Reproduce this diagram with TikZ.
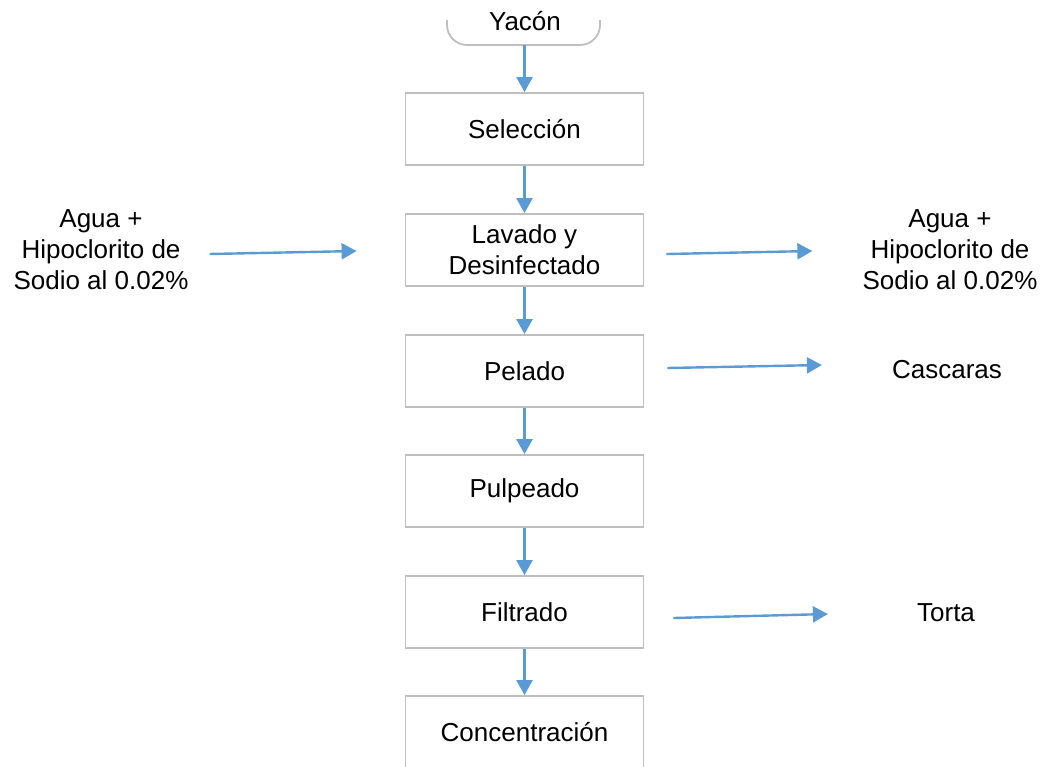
\documentclass[tikz,border=0pt]{standalone}
\usepackage{fontspec}
\setmainfont{Liberation Sans}
\usetikzlibrary{arrows.meta,calc}
\definecolor{flowblue}{HTML}{5B9BD5}
\definecolor{boxgray}{HTML}{BFBFBF}
\tikzset{
	procbox/.style={draw=boxgray, line width=1.8pt, minimum width=238pt, minimum height=72pt, align=center, inner sep=0pt},
	flow/.style={draw=flowblue, line width=2.4pt, -{Triangle[length=15pt,width=16pt]}},
	sidetext/.style={align=center, inner sep=0pt}
}

\begin{document}
\begin{tikzpicture}[x=1pt, y=-1pt, font=\fontsize{26}{31}\selectfont]
			%%%%% START %%%%%
			\useasboundingbox (0,0) rectangle (1056,766);
			
			\node[inner sep=0pt] (yacon) at (525,21) {Yacón};
			\draw[boxgray, line width=1.8pt, rounded corners=20pt] (447,20) |- (600,45) -- (600,20);
			\coordinate (yaconbot) at (524.5,45);
			
			\node[procbox] (sel) at (524.5,129) {Selección};
			\node[procbox] (lav) at (524.5,250) {Lavado y\\Desinfectado};
			\node[procbox] (pel) at (524.5,371) {Pelado};
			\node[procbox] (pul) at (524.5,491) {Pulpeado};
			\node[procbox] (fil) at (524.5,612) {Filtrado};
			\node[procbox] (conc) at (524.5,732) {Concentración};
			
			\node[sidetext] (aguain) at (101,250) {Agua +\\Hipoclorito de\\Sodio al 0.02\%};
			\node[sidetext] (aguaout) at (950,250) {Agua +\\Hipoclorito de\\Sodio al 0.02\%};
			\node[sidetext] (casc) at (947,370) {Cascaras};
			\node[sidetext] (torta) at (946,613) {Torta};
			
			\draw[flow] (yaconbot) -- (sel.north);
			\draw[flow] (sel) -- (lav);
			\draw[flow] (lav) -- (pel);
			\draw[flow] (pel) -- (pul);
			\draw[flow] (pul) -- (fil);
			\draw[flow] (fil) -- (conc);
			
			\draw[flow] ([shift={(21,4)}]aguain.east) -- ([shift={(-48,1)}]lav.west);
			\draw[flow] ([shift={(22,4)}]lav.east) -- ([shift={(-50,1)}]aguaout.west);
			\draw[flow] ([shift={(23,-3)}]pel.east) -- ([shift={(-70,-5)}]casc.west);
			\draw[flow] ([shift={(29,6)}]fil.east) -- ([shift={(-89,1)}]torta.west);
			
			%%%%% END %%%%%
\end{tikzpicture}
\end{document}
